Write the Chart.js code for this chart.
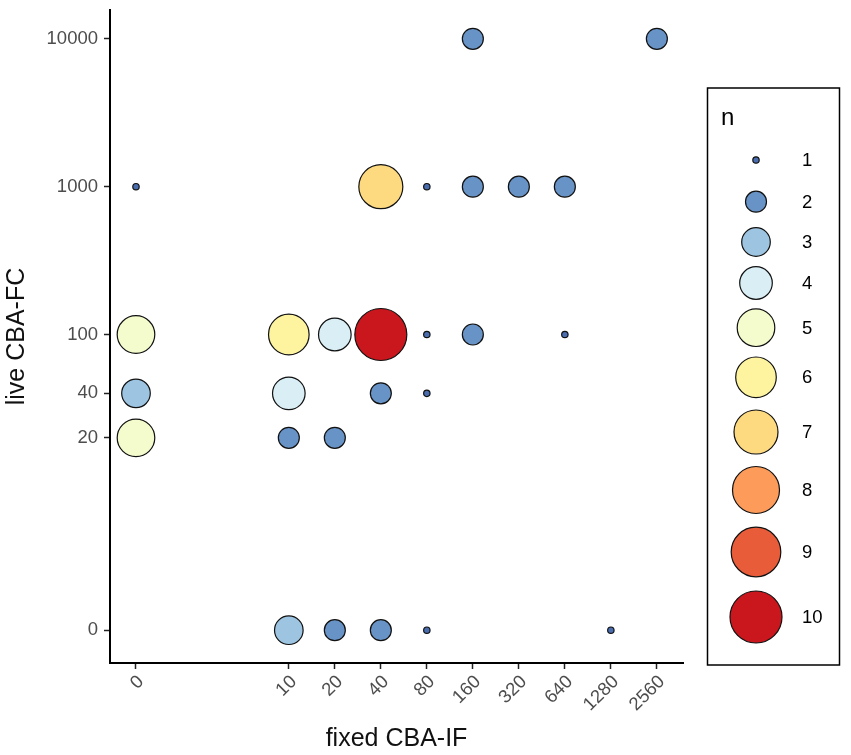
<!DOCTYPE html>
<html>
<head>
<meta charset="utf-8">
<script src="https://cdn.jsdelivr.net/npm/chart.js@4.4.1/dist/chart.umd.min.js"></script>
<style>
  html, body { margin: 0; padding: 0; background: #fff; }
  canvas { display: block; }
</style>
</head>
<body>
<canvas id="chart" width="851" height="755"></canvas>
<script>
// titres: fixed CBA-IF vs live CBA-FC, n = number of samples at that pair
const fixedIF = [160, 2560, 0, 40, 80, 160, 320, 640, 0, 10, 20, 40, 80, 160, 640, 0, 10, 40, 80, 0, 10, 20, 10, 20, 40, 80, 1280];
const liveFC = [10000, 10000, 1000, 1000, 1000, 1000, 1000, 1000, 100, 100, 100, 100, 100, 100, 100, 40, 40, 40, 40, 20, 20, 20, 0, 0, 0, 0, 0];
const count = [2, 2, 1, 7, 1, 2, 2, 2, 5, 6, 4, 10, 1, 2, 1, 3, 4, 2, 1, 5, 2, 2, 3, 2, 2, 1, 1];

const xTicks = [0, 10, 20, 40, 80, 160, 320, 640, 1280, 2560];
const yTicks = [0, 20, 40, 100, 1000, 10000];
const nLevels = [1, 2, 3, 4, 5, 6, 7, 8, 9, 10];

const nColors = ["#4a6db0", "#6893c7", "#9dc5e1", "#d9eef5", "#f4fbcc", "#fef4a0", "#fdd97f", "#fc9b5a", "#e95c3a", "#c9171d"];
const nRadius = [3.2, 10.5, 14.3, 16.3, 18.8, 20.3, 22, 23.5, 24.8, 26];
const FONT = "'Liberation Sans', Arial, sans-serif";

// zero can't sit on a log axis, so it is drawn at 1 and labelled 0
const z = (v) => (v === 0 ? 1 : v);

const points = fixedIF.map((x, i) => ({ x: z(x), y: z(liveFC[i]), r: nRadius[count[i] - 1], n: count[i] }));

const legendBox = {
  id: "legendBox",
  afterDraw(chart) {
    const ctx = chart.ctx;
    ctx.save();
    ctx.strokeStyle = "#000";
    ctx.lineWidth = 1.5;
    ctx.strokeRect(707.5, 88, 132, 577);
    ctx.fillStyle = "#000";
    ctx.font = "24px " + FONT;
    ctx.textBaseline = "alphabetic";
    ctx.fillText("n", 721, 125);
    const rows = [160, 201.7, 242, 283, 327.7, 377.3, 432, 490, 552, 617];
    ctx.font = "18.5px " + FONT;
    nLevels.forEach((n, i) => {
      ctx.beginPath();
      ctx.arc(756, rows[i], nRadius[i], 0, Math.PI * 2);
      ctx.fillStyle = nColors[i];
      ctx.fill();
      ctx.lineWidth = 1.2;
      ctx.strokeStyle = "#111";
      ctx.stroke();
      ctx.fillStyle = "#000";
      ctx.textBaseline = "middle";
      ctx.fillText(String(n), 802, rows[i] + 1);
    });
    ctx.restore();
  },
};

new Chart(document.getElementById("chart"), {
  type: "bubble",
  data: {
    datasets: [
      {
        data: points,
        backgroundColor: (c) => nColors[c.raw.n - 1],
        borderColor: "#111",
        borderWidth: 1.2,
        hoverRadius: 0,
      },
    ],
  },
  options: {
    responsive: false,
    animation: false,
    layout: { autoPadding: false, padding: { top: 10, right: 168, left: 0, bottom: 0 } },
    plugins: { legend: { display: false }, tooltip: { enabled: false } },
    scales: {
      x: {
        type: "logarithmic",
        min: 0.676,
        max: 3795,
        afterBuildTicks: (s) => { s.ticks = xTicks.map((v) => ({ value: z(v) })); },
        afterFit: (s) => { s.height = 92; s.paddingLeft = 0; s.paddingRight = 0; },
        ticks: {
          autoSkip: false,
          maxRotation: 45,
          minRotation: 45,
          padding: 2,
          labelOffset: 5,
          color: "#4d4d4d",
          font: { family: FONT, size: 18.5 },
          callback: (v) => (v === 1 ? "0" : String(v)),
        },
        grid: { drawOnChartArea: false, drawTicks: true, tickLength: 6, tickColor: "#222", tickWidth: 1.5 },
        border: { display: true, color: "#000", width: 2 },
        title: { display: true, text: "fixed CBA-IF", color: "#111", font: { family: FONT, size: 25 }, padding: { top: 0, bottom: 1 } },
      },
      y: {
        type: "logarithmic",
        min: 0.641,
        max: 15670,
        afterBuildTicks: (s) => { s.ticks = yTicks.map((v) => ({ value: z(v) })); },
        afterFit: (s) => { s.width = 110; s.paddingTop = 0; s.paddingBottom = 0; },
        ticks: {
          autoSkip: false,
          padding: 6,
          color: "#4d4d4d",
          font: { family: FONT, size: 18.5 },
          callback: (v) => (v === 1 ? "0" : String(v)),
        },
        grid: { drawOnChartArea: false, drawTicks: true, tickLength: 6, tickColor: "#222", tickWidth: 1.5 },
        border: { display: true, color: "#000", width: 2 },
        title: { display: true, text: "live CBA-FC", color: "#111", font: { family: FONT, size: 25 }, padding: { top: 2, bottom: 0 } },
      },
    },
  },
  plugins: [legendBox],
});
</script>
</body>
</html>
